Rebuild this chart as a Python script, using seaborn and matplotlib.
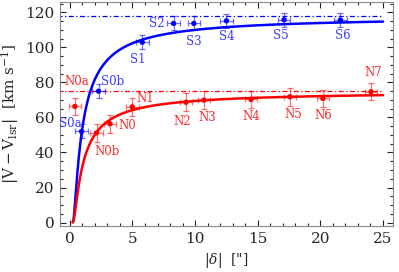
import numpy as np
import pandas as pd
import matplotlib
matplotlib.use("Agg")
import matplotlib.pyplot as plt
import seaborn as sns

# ---- data ----
s_names = ["S0a", "S0b", "S1", "S2", "S3", "S4", "S5", "S6"]
s_x = [0.93, 2.29, 5.78, 8.28, 9.9, 12.5, 17.1, 21.6]
s_y = [52.0, 75.0, 103.0, 113.7, 113.7, 115.2, 115.8, 115.6]
s_xerr = [0.5, 0.5, 0.5, 0.5, 0.5, 0.5, 0.5, 0.5]
s_yerr = [4.0, 4.0, 4.0, 4.0, 4.0, 4.0, 4.0, 4.0]

n_names = ["N0a", "N0b", "N0", "N1", "N2", "N3", "N4", "N5", "N6", "N7"]
n_x = [0.4, 2.13, 3.2, 4.98, 9.27, 10.7, 14.46, 17.57, 20.2, 24.04]
n_y = [66.3, 51.2, 56.4, 66.1, 68.7, 69.9, 70.3, 71.8, 70.9, 74.7]
n_xerr = [0.5, 0.5, 0.5, 0.5, 0.5, 0.5, 0.5, 0.5, 0.5, 0.5]
n_yerr = [5.0, 5.0, 5.0, 5.0, 5.0, 5.0, 5.0, 5.0, 5.0, 5.0]

# model (beta-law) parameters: terminal velocity, inner radius, beta
s_vinf, s_r0, s_beta = 118.0, 0.21, 3.3
n_vinf, n_r0, n_beta = 75.0, 0.20, 3.8

# ---- style ----
sns.set_style("ticks")
plt.rcParams["font.family"] = ["DejaVu Serif"]
plt.rcParams["mathtext.fontset"] = "dejavuserif"

BLUE = "#0000ff"
RED = "#ff0000"
BLUE_T = "#3a3aff"
RED_T = "#ff2a2a"

fig = plt.figure(figsize=(3.99, 2.72), dpi=100)
ax = fig.add_axes([0.150, 0.169, 0.835, 0.824])

# model curves
r = np.linspace(0.0, 25.0, 600)
def beta_law(r, vinf, r0, beta):
    v = np.where(r > r0, vinf * np.clip(1 - r0 / np.maximum(r, 1e-9), 0, None) ** beta, np.nan)
    return v

curves = pd.concat([
    pd.DataFrame({"r": r, "v": beta_law(r, s_vinf, s_r0, s_beta), "grp": "S"}),
    pd.DataFrame({"r": r, "v": beta_law(r, n_vinf, n_r0, n_beta), "grp": "N"}),
]).dropna()
sns.lineplot(data=curves, x="r", y="v", hue="grp", palette={"S": BLUE, "N": RED},
             lw=1.8, legend=False, ax=ax, sort=False, estimator=None)

# terminal velocity lines
ax.plot([-1, 25], [s_vinf, s_vinf], ls=(0, (4, 2, 1, 2)), color=BLUE, lw=0.9)
ax.plot([-1, 25], [n_vinf, n_vinf], ls=(0, (4, 2, 1, 2)), color=RED, lw=0.9)

# error bars
ax.errorbar(s_x, s_y, xerr=s_xerr, yerr=s_yerr, fmt="none", ecolor=BLUE,
            alpha=0.55, elinewidth=0.9, capsize=2, capthick=0.9)
ax.errorbar(n_x, n_y, xerr=n_xerr, yerr=n_yerr, fmt="none", ecolor=RED,
            alpha=0.55, elinewidth=0.9, capsize=2, capthick=0.9)

pts = pd.DataFrame({
    "x": s_x + n_x, "y": s_y + n_y,
    "grp": ["S"] * len(s_x) + ["N"] * len(n_x),
})
sns.scatterplot(data=pts, x="x", y="y", hue="grp", palette={"S": BLUE, "N": RED},
                s=15, edgecolor="none", legend=False, ax=ax, zorder=5)

# label offsets in pixels (dx, dy up)
s_off = [(-11, 8), (14, 10), (-5, -17), (-17, 0), (0, -18), (0, -16), (-3, -16), (2, -15)]
n_off = [(2, 25), (11, -19), (17, -2), (13, 8), (-4, -19), (3, -17), (0, -17), (3, -18), (0, -17), (2, 19)]
for name, x, y, (dx, dy) in zip(s_names, s_x, s_y, s_off):
    ax.annotate(name, (x, y), xytext=(dx * 0.72, dy * 0.72), textcoords="offset points",
                ha="center", va="center", color=BLUE_T, fontsize=8.5)
for name, x, y, (dx, dy) in zip(n_names, n_x, n_y, n_off):
    ax.annotate(name, (x, y), xytext=(dx * 0.72, dy * 0.72), textcoords="offset points",
                ha="center", va="center", color=RED_T, fontsize=8.5)

ax.set_xlim(-0.8, 25.8)
ax.set_ylim(-2, 126)
ax.set_xticks([0, 5, 10, 15, 20, 25])
ax.set_yticks([0, 20, 40, 60, 80, 100, 120])
ax.xaxis.set_minor_locator(matplotlib.ticker.MultipleLocator(1))
ax.yaxis.set_minor_locator(matplotlib.ticker.MultipleLocator(5))
ax.tick_params(which="both", direction="in", top=True, right=True, color="#222222")
ax.tick_params(which="major", length=4, width=0.8, labelsize=11, pad=4)
ax.tick_params(which="minor", length=2, width=0.8)
for sp in ax.spines.values():
    sp.set_color("#888888")
    sp.set_linewidth(0.8)

ax.set_xlabel(r'$|\delta|$  ["]', fontsize=10, labelpad=4)
ax.set_ylabel(r'$|\mathrm{V}-\mathrm{V}_{\mathrm{lsr}}|$  [km s$^{-1}$]', fontsize=11, labelpad=3)

fig.savefig("out.png", dpi=100)
